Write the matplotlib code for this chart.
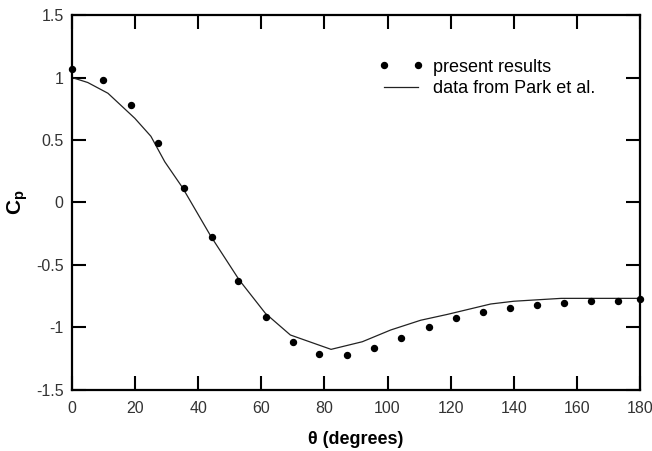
import matplotlib
matplotlib.use('Agg')
from matplotlib import pyplot as plt

plt.rcParams['font.family'] = ['Liberation Sans', 'DejaVu Sans']
plt.rcParams['mathtext.fontset'] = 'custom'
plt.rcParams['mathtext.rm'] = 'Liberation Sans'
plt.rcParams['mathtext.bf'] = 'Liberation Sans:bold'

# computed pressure coefficient around the cylinder
theta_present = [0, 9.9, 18.7, 27.2, 35.6, 44.3, 52.7, 61.5, 70.1, 78.4, 87.3,
                 95.8, 104.4, 113, 121.6, 130.2, 138.7, 147.3, 155.9, 164.4, 173, 180]
cp_present = [1.068, 0.983, 0.78, 0.473, 0.113, -0.273, -0.628, -0.92, -1.118, -1.212, -1.222,
              -1.167, -1.081, -0.993, -0.924, -0.876, -0.844, -0.82, -0.804, -0.788, -0.786, -0.772]

# reference curve (Park et al.)
theta_park = [0, 5, 11.4, 19.9, 25, 29.4, 35, 44, 53, 61.3, 69.2, 82.1,
              92, 101, 110.5, 119, 132.7, 140, 155, 180]
cp_park = [1.0, 0.96, 0.874, 0.674, 0.53, 0.326, 0.12, -0.27, -0.62, -0.887, -1.06, -1.175,
           -1.114, -1.02, -0.942, -0.895, -0.812, -0.79, -0.767, -0.767]

xticks = [0, 20, 40, 60, 80, 100, 120, 140, 160, 180]
yticks = [-1.5, -1, -0.5, 0, 0.5, 1, 1.5]
ytick_labels = ['-1.5', '-1', '-0.5', '0', '0.5', '1', '1.5']

fig = plt.figure(figsize=(6.52, 4.51), dpi=100)
ax = fig.add_axes([0.1104, 0.1353, 0.8712, 0.8314])

ax.plot(theta_present, cp_present, 'o', color='black', markersize=4.3,
        label='present results', clip_on=False, zorder=3)
ax.plot(theta_park, cp_park, '-', color='#222222', linewidth=0.9,
        label='data from Park et al.')

ax.set_xlim(0, 180)
ax.set_ylim(-1.5, 1.5)
ax.set_xticks(xticks)
ax.set_yticks(yticks)
ax.set_yticklabels(ytick_labels)

ax.tick_params(direction='in', length=10, width=1.5, top=True, right=True,
               labelsize=11.5, labelcolor='#333333')
ax.tick_params(axis='x', pad=8)
ax.tick_params(axis='y', pad=6)
for s in ax.spines.values():
    s.set_linewidth(1.6)

ax.set_xlabel('θ (degrees)', fontsize=13, fontweight='bold', labelpad=11)
ax.set_ylabel(r'$\mathbf{C_p}$', fontsize=15)
ax.yaxis.set_label_coords(-0.074, 0.5)

ax.legend(loc='upper right', bbox_to_anchor=(0.921, 0.884), frameon=False,
          numpoints=2, fontsize=13, handlelength=2.45, handletextpad=0.55,
          labelspacing=0.25, borderaxespad=0, borderpad=0)

fig.savefig('out.png', dpi=100)
